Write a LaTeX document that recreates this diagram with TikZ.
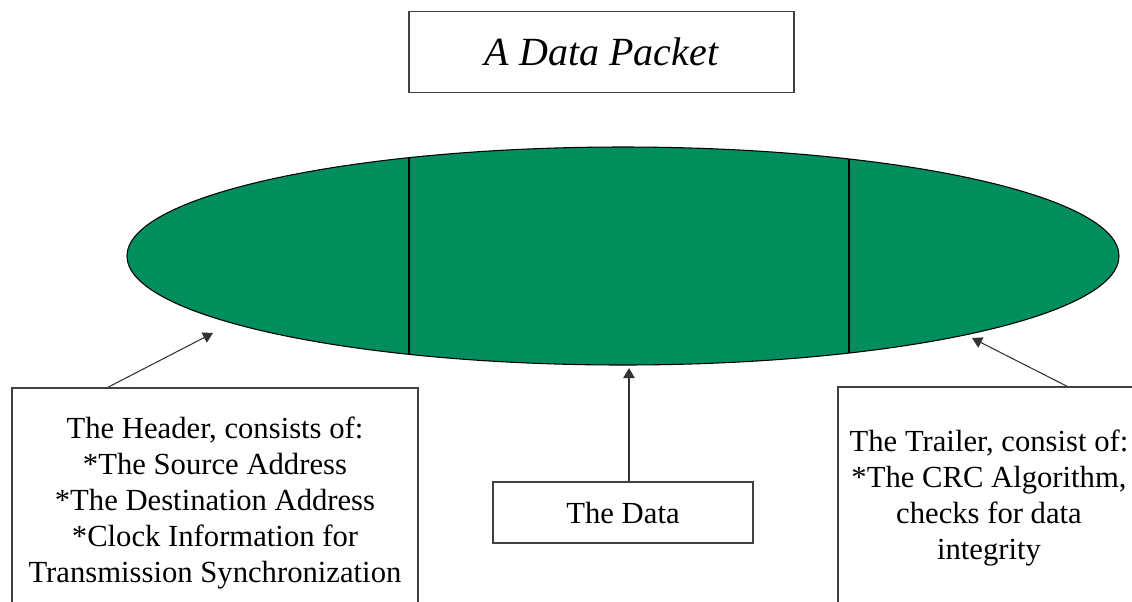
\documentclass[tikz,border=0pt]{standalone}
\usepackage{fontspec}
\setmainfont{Liberation Serif}
\usepackage{xcolor}
\usetikzlibrary{arrows.meta,shapes.geometric}

\definecolor{packetgreen}{RGB}{0,142,92}

\begin{document}
\begin{tikzpicture}[x=0.75pt, y=-0.75pt,
    box/.style={draw=black!75, line width=1.1pt, fill=white, align=center, inner sep=0pt},
    bodytext/.style={font=\fontsize{23}{27}\selectfont},
    pointer/.style={draw=black!80, line width=0.8pt, -{Triangle[length=7.5pt,width=8.5pt]}}]

\useasboundingbox (0,0) rectangle (1132,601);
\clip (0,0) rectangle (1132,601);

% Title
\node[box, minimum width=288.75pt, minimum height=60.75pt, font=\fontsize{30}{36}\selectfont\itshape] (title) at (601.5,52) {A Data Packet};

% The packet
\node[ellipse, draw=black, line width=0.8pt, fill=packetgreen, minimum width=744pt, minimum height=163.5pt, inner sep=0pt] (packet) at (623,256) {};
\draw[black, line width=0.8pt] (409,158) -- (409,354);
\draw[black, line width=0.8pt] (849,159) -- (849,353);

% Parts of the packet
\node[box, bodytext, minimum width=304.5pt, minimum height=172.5pt] (header) at (215,503)
    {The Header, consists of:\\ *The Source Address\\ *The Destination Address\\ *Clock Information for\\ Transmission Synchronization};
\node[box, bodytext, minimum width=195pt, minimum height=45.75pt] (data) at (623,512.5) {The Data};
\node[box, bodytext, minimum width=226.5pt, minimum height=166.5pt] (trailer) at (989,498)
    {The Trailer, consist of:\\ *The CRC Algorithm,\\ checks for data\\ integrity};

% Pointers
\coordinate (headertip) at (213,333);
\coordinate (datatip) at (629,368);
\coordinate (trailertip) at (972,338);
\draw[pointer] ([xshift=-80.25pt]header.north) -- (headertip);
\draw[pointer] ([xshift=4.5pt]data.north) -- (datatip);
\draw[pointer] ([xshift=58.5pt]trailer.north) -- (trailertip);

\end{tikzpicture}
\end{document}
